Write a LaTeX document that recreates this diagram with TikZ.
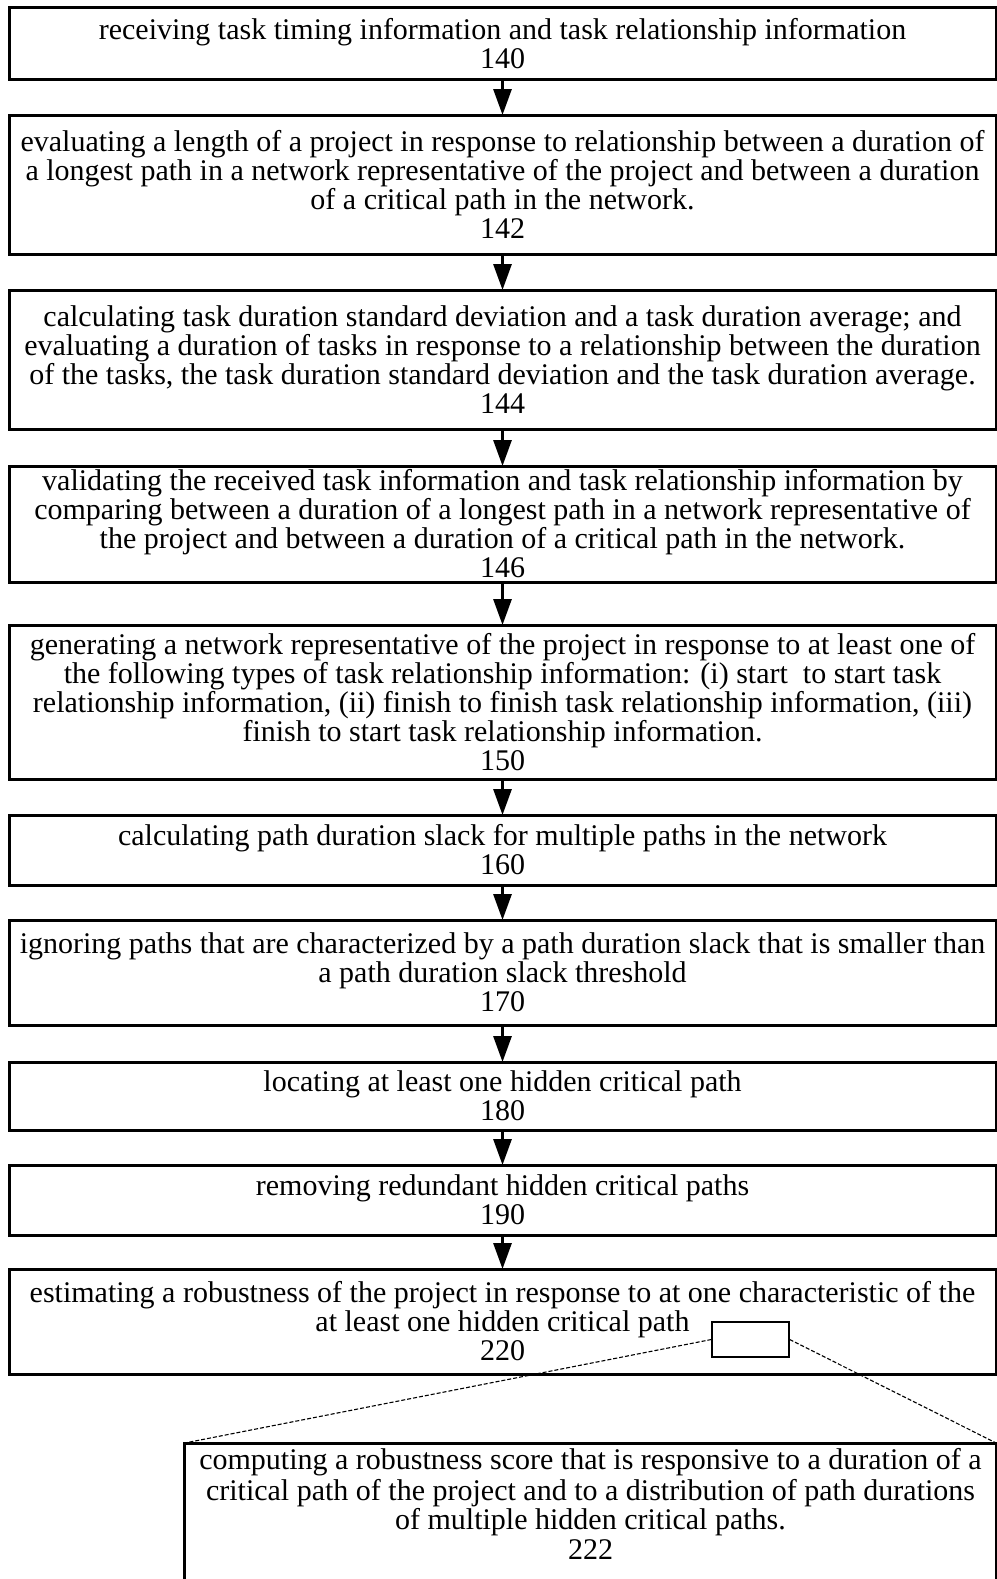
\documentclass[tikz,border=0pt]{standalone}
\usepackage{fontspec}
\setmainfont{Liberation Serif}
\usetikzlibrary{arrows.meta}

\begin{document}
\begin{tikzpicture}[x=1pt, y=-1pt,
  stepbox/.style={draw, line width=3pt, align=center, minimum width=987pt,
    inner sep=0pt, outer sep=0pt, font=\fontsize{30}{29}\selectfont},
  flowarrow/.style={line width=3pt, -{Triangle[length=26pt,width=18pt]}},
  zoomline/.style={line width=1.1pt, dash pattern=on 4pt off 2pt}]

\useasboundingbox (0,0) rectangle (996,1579);

\node[stepbox, minimum height=71pt] (recv) at (502.5,43.5)
  {receiving task timing information and task relationship information\\140};
\node[stepbox, minimum height=139pt] (evallen) at (502.5,184.5)
  {evaluating a length of a project in response to relationship between a duration of\\
   a longest path in a network representative of the project and between a duration\\
   of a critical path in the network.\\142};
\node[stepbox, minimum height=139pt] (taskdev) at (502.5,359.5)
  {calculating task duration standard deviation and a task duration average; and\\
   evaluating a duration of tasks in response to a relationship between the duration\\
   of the tasks, the task duration standard deviation and the task duration average.\\144};
\node[stepbox, minimum height=116pt] (validate) at (502.5,524)
  {validating the received task information and task relationship information by\\
   comparing between a duration of a longest path in a network representative of\\
   the project and between a duration of a critical path in the network.\\146};
\node[stepbox, minimum height=154pt] (gennet) at (502.5,702)
  {generating a network representative of the project in response to at least one of\\
   the following types of task relationship information: (i) start\ \ to start task\\
   relationship information, (ii) finish to finish task relationship information, (iii)\\
   finish to start task relationship information.\\150};
\node[stepbox, minimum height=70pt] (slack) at (502.5,850)
  {calculating path duration slack for multiple paths in the network\\160};
\node[stepbox, minimum height=105pt] (ignore) at (502.5,972.5)
  {ignoring paths that are characterized by a path duration slack that is smaller than\\
   a path duration slack threshold\\170};
\node[stepbox, minimum height=68pt] (locate) at (502.5,1096)
  {locating at least one hidden critical path\\180};
\node[stepbox, minimum height=70pt] (remove) at (502.5,1200)
  {removing redundant hidden critical paths\\190};
\node[stepbox, minimum height=105pt] (robust) at (502.5,1321.5)
  {estimating a robustness of the project in response to at one characteristic of the\\
   at least one hidden critical path\\220};

\node[draw, line width=1.3pt, minimum width=77pt, minimum height=35pt, inner sep=0pt] (zoomwin) at (750.5,1339.5) {};

\node[align=center, anchor=north, minimum width=811pt, inner xsep=0pt, inner ysep=5pt,
  font=\fontsize{30}{29.5}\selectfont] (detail) at (590.5,1443)
  {\strut computing a robustness score that is responsive to a duration of a\\
   critical path of the project and to a distribution of path durations\\
   of multiple hidden critical paths.\\222};
\path[draw, line width=3pt] (detail.north west |- 0,1600) -- (detail.north west)
  -- (detail.north east) -- (detail.north east |- 0,1600);

\foreach \a/\b in {recv/evallen, evallen/taskdev, taskdev/validate, validate/gennet,
  gennet/slack, slack/ignore, ignore/locate, locate/remove, remove/robust}
  \path[draw, flowarrow] (\a.south) -- (\b.north);

\path[draw, zoomline] (zoomwin.west) -- (detail.north west);
\path[draw, zoomline] (zoomwin.east) -- (detail.north east);

\end{tikzpicture}
\end{document}
